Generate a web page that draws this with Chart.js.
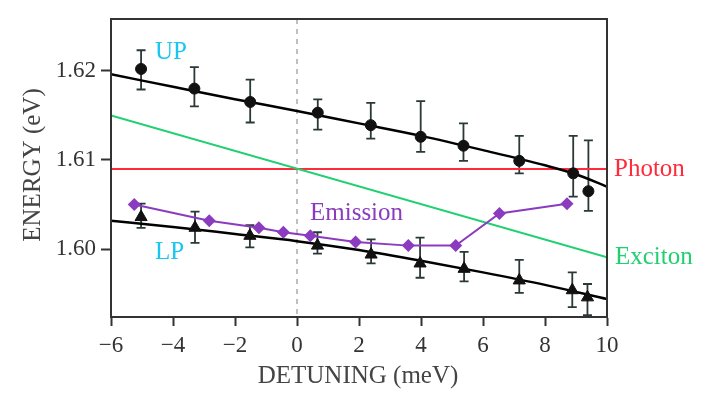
<!DOCTYPE html>
<html>
<head>
<meta charset="utf-8">
<script src="https://cdn.jsdelivr.net/npm/chart.js@4"></script>
<style>
  body { margin: 0; background: #fff; }
  canvas { display: block; }
</style>
</head>
<body>
<canvas id="grafico" width="706" height="394"></canvas>
<script>
// valores
const xTicks = [-6, -4, -2, 0, 2, 4, 6, 8, 10];
const yTicks = [1.60, 1.61, 1.62];

const upX  = [-5.03, -3.31, -1.51, 0.67, 2.38, 3.99, 5.37, 7.17, 8.91, 9.40];
const upE  = [1.6202, 1.6180, 1.6165, 1.6153, 1.6139, 1.6126, 1.6116, 1.6099, 1.6085, 1.6065];
const upHi = [1.6223, 1.6204, 1.6190, 1.6168, 1.6164, 1.6166, 1.6141, 1.6127, 1.6127, 1.6122];
const upLo = [1.6179, 1.6160, 1.6142, 1.6134, 1.6124, 1.6109, 1.6099, 1.6085, 1.6059, 1.6043];

const lpX  = [-5.03, -3.29, -1.52, 0.66, 2.39, 3.97, 5.39, 7.17, 8.88, 9.37];
const lpE  = [1.6036, 1.6024, 1.6015, 1.6004, 1.5994, 1.5984, 1.5978, 1.5965, 1.5954, 1.5946];
const lpHi = [1.6051, 1.6042, 1.6027, 1.6019, 1.6011, 1.6013, 1.5997, 1.5988, 1.5974, 1.5961];
const lpLo = [1.6024, 1.6007, 1.6002, 1.5995, 1.5984, 1.5968, 1.5964, 1.5951, 1.5935, 1.5926];

const emX = [-5.25, -2.83, -1.23, -0.44, 0.43, 1.89, 3.59, 5.12, 6.53, 8.71];
const emE = [1.6050, 1.6032, 1.6024, 1.6019, 1.6015, 1.6008, 1.6004, 1.6004, 1.6040, 1.6051];

const upFitX = [-6, -4, -2, 0, 2, 4, 6, 8, 9, 10];
const upFitE = [1.6196, 1.6182, 1.6168, 1.6155, 1.6141, 1.6127, 1.6111, 1.6094, 1.6084, 1.6070];
const lpFitX = [-6, -4, -2, 0, 2, 4, 6, 8, 10];
const lpFitE = [1.6032, 1.6025, 1.6017, 1.6009, 1.5999, 1.5987, 1.5974, 1.5960, 1.5944];

const photonX = [-6, 10];
const photonE = [1.6090, 1.6090];
const excitonX = [-6, 10];
const excitonE = [1.6150, 1.5991];

const pts = (xs, ys) => xs.map((x, i) => ({ x: x, y: ys[i] }));

const FONT = "'Liberation Serif', 'Times New Roman', serif";

const extras = {
  id: "extras",
  beforeDatasetsDraw(chart) {
    const { ctx, chartArea: a, scales: { x, y } } = chart;
    ctx.save();
    // linea de detuning cero
    ctx.strokeStyle = "#aaaaaa";
    ctx.lineWidth = 1.5;
    ctx.setLineDash([5, 5]);
    const x0 = x.getPixelForValue(0);
    ctx.beginPath();
    ctx.moveTo(x0, a.top);
    ctx.lineTo(x0, a.bottom);
    ctx.stroke();
    ctx.setLineDash([]);
    // barras de error
    ctx.strokeStyle = "#2b3838";
    ctx.lineWidth = 1.8;
    const barras = (xs, hi, lo) => {
      xs.forEach((v, i) => {
        const px = x.getPixelForValue(v);
        const yh = y.getPixelForValue(hi[i]);
        const yl = y.getPixelForValue(lo[i]);
        ctx.beginPath();
        ctx.moveTo(px, yh); ctx.lineTo(px, yl);
        ctx.moveTo(px - 4.5, yh); ctx.lineTo(px + 4.5, yh);
        ctx.moveTo(px - 4.5, yl); ctx.lineTo(px + 4.5, yl);
        ctx.stroke();
      });
    };
    barras(upX, upHi, upLo);
    barras(lpX, lpHi, lpLo);
    ctx.restore();
  },
  afterDraw(chart) {
    const { ctx, chartArea: a } = chart;
    ctx.save();
    ctx.strokeStyle = "#333";
    ctx.lineWidth = 2;
    ctx.strokeRect(a.left, a.top, a.right - a.left, a.bottom - a.top);

    ctx.font = "25px " + FONT;
    ctx.textBaseline = "middle";
    ctx.textAlign = "left";
    ctx.fillStyle = "#19c6ef";
    ctx.fillText("UP", 155, 52);
    ctx.fillText("LP", 155, 252);
    ctx.fillStyle = "#8b3bbf";
    ctx.fillText("Emission", 310, 213);
    ctx.fillStyle = "#ff2b3b";
    ctx.fillText("Photon", 614, 169);
    ctx.fillStyle = "#20d070";
    ctx.fillText("Exciton", 615, 257);

    ctx.fillStyle = "#444";
    ctx.textAlign = "center";
    ctx.fillText("DETUNING (meV)", 358, 376);
    ctx.translate(33, 165);
    ctx.rotate(-Math.PI / 2);
    ctx.fillText("ENERGY (eV)", 0, 0);
    ctx.restore();
  }
};

const linea = (data, color, width, order) => ({
  data: data, showLine: true, borderColor: color, borderWidth: width,
  pointRadius: 0, fill: false, order: order
});

const upFit = linea(pts(upFitX, upFitE), "#000", 2.5, 4);
upFit.cubicInterpolationMode = "monotone";
const lpFit = linea(pts(lpFitX, lpFitE), "#000", 2.5, 4);
lpFit.cubicInterpolationMode = "monotone";

new Chart(document.getElementById("grafico"), {
  type: "scatter",
  data: {
    datasets: [
      linea(pts(photonX, photonE), "#ff2b3b", 2, 6),
      linea(pts(excitonX, excitonE), "#20d070", 2, 5),
      upFit,
      lpFit,
      {
        data: pts(emX, emE), showLine: true, borderColor: "#8b3bbf", borderWidth: 2,
        pointStyle: "rectRot", pointRadius: 6.5, pointBackgroundColor: "#8b3bbf",
        pointBorderWidth: 0, order: 3
      },
      {
        data: pts(upX, upE), pointStyle: "circle", pointRadius: 5.5,
        pointBackgroundColor: "#111", pointBorderColor: "#111", order: 1
      },
      {
        data: pts(lpX, lpE), pointStyle: "triangle", pointRadius: 7,
        pointBackgroundColor: "#111", pointBorderColor: "#111", order: 1
      }
    ]
  },
  options: {
    responsive: false,
    animation: false,
    layout: { padding: { left: 0, top: 19, right: 99, bottom: 0 } },
    plugins: { legend: { display: false }, tooltip: { enabled: false } },
    scales: {
      x: {
        type: "linear", min: -6, max: 10,
        afterFit: (s) => { s.height = 77; },
        afterBuildTicks: (s) => { s.ticks = xTicks.map(v => ({ value: v })); },
        grid: { drawOnChartArea: false, tickLength: 9, tickWidth: 2, tickColor: "#333" },
        border: { color: "#333", width: 2 },
        ticks: {
          padding: 6, color: "#333", font: { family: FONT, size: 23 },
          callback: (v) => (v < 0 ? "\u2212" + Math.abs(v) : String(v))
        }
      },
      y: {
        type: "linear", min: 1.5924, max: 1.6258,
        afterFit: (s) => { s.width = 111; },
        afterBuildTicks: (s) => { s.ticks = yTicks.map(v => ({ value: v })); },
        grid: { drawOnChartArea: false, tickLength: 10, tickWidth: 2, tickColor: "#333" },
        border: { color: "#333", width: 2 },
        ticks: {
          padding: 5, color: "#333", font: { family: FONT, size: 23 },
          callback: (v) => v.toFixed(2)
        }
      }
    }
  },
  plugins: [extras]
});
</script>
</body>
</html>
